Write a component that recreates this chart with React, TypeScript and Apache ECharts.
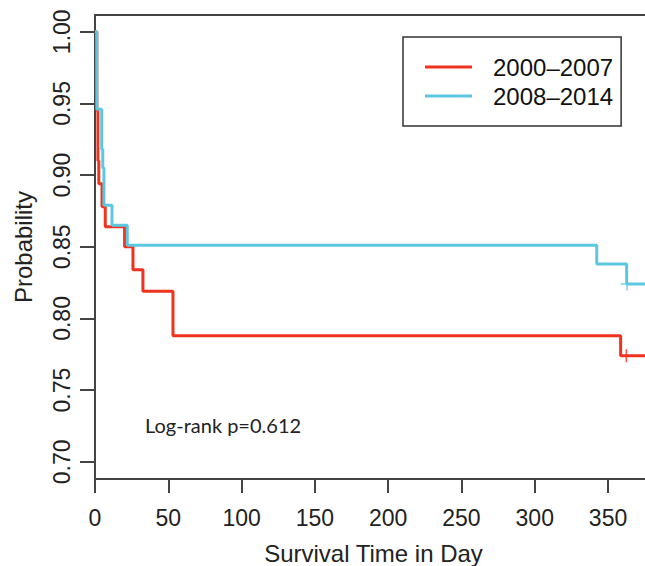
import React, { useEffect, useRef } from "react";
import * as echarts from "echarts";

const xTicks = [0, 50, 100, 150, 200, 250, 300, 350];
const yTicks = [0.7, 0.75, 0.8, 0.85, 0.9, 0.95, 1.0];

const redName = "2000–2007";
const redTimes = [0, 1.25, 2, 2.6, 4.8, 7, 20.2, 25.9, 32.7, 53.2, 358.6, 380];
const redSurv = [1, 0.945, 0.91, 0.894, 0.878, 0.864, 0.85, 0.834, 0.819, 0.788, 0.774, 0.774];
const redCensorTimes = [362.5];
const redCensorSurv = [0.774];

const blueName = "2008–2014";
const blueTimes = [0, 1.2, 1.3, 4.6, 5.3, 6.1, 11.6, 22, 342.3, 362.7, 380];
const blueSurv = [1, 0.986, 0.946, 0.918, 0.905, 0.879, 0.865, 0.851, 0.838, 0.824, 0.824];
const blueCensorTimes = [363];
const blueCensorSurv = [0.824];

const pValueText = "Log-rank p=0.612";

const RED = "#f0321e";
const BLUE = "#5cc8e0";
const AX = "#444";
const FONT = "'Liberation Sans', Arial, Helvetica, sans-serif";
const PLUS = "path://M-0.12,-1H0.12V1H-0.12Z M-1,-0.12H1V0.12H-1Z";

const zip = (a: number[], b: number[]) => a.map((v, i) => [v, b[i]]);

export default function App() {
  const ref = useRef<HTMLDivElement>(null);
  useEffect(() => {
    if (!ref.current) return;
    const chart = echarts.init(ref.current, null, { renderer: "svg" });
    chart.setOption({
      animation: false,
      backgroundColor: "#fff",
      grid: {
        left: 95,
        top: 15,
        width: 557,
        height: 464,
        outerBoundsMode: "none",
        containLabel: false,
        show: true,
        borderColor: AX,
        borderWidth: 2,
        backgroundColor: "transparent",
      },
      legend: {
        orient: "vertical",
        left: 403,
        top: 37,
        padding: [18, 8, 18, 22],
        icon: "rect",
        itemWidth: 47,
        itemHeight: 3,
        itemGap: 5,
        borderColor: "#333",
        borderWidth: 1.5,
        data: [redName, blueName],
        textStyle: {
          fontSize: 24,
          lineHeight: 24,
          fontFamily: FONT,
          color: "#111",
          padding: [0, 0, 0, 16],
        },
      },
      xAxis: {
        type: "value",
        min: 0,
        max: 380,
        name: "Survival Time in Day",
        nameLocation: "middle",
        nameGap: 62,
        nameTextStyle: { fontSize: 24, fontFamily: FONT, color: "#222" },
        axisLine: { show: true, onZero: false, lineStyle: { color: AX, width: 2 } },
        axisTick: { show: true, length: 14, customValues: xTicks, lineStyle: { color: AX, width: 2 } },
        axisLabel: {
          customValues: xTicks,
          fontSize: 23,
          fontFamily: FONT,
          color: "#222",
          margin: 27,
        },
        splitLine: { show: false },
      },
      yAxis: {
        type: "value",
        min: 0.688,
        max: 1.0117,
        name: "Probability",
        nameLocation: "middle",
        nameGap: 60,
        nameTextStyle: { fontSize: 24, fontFamily: FONT, color: "#222" },
        axisLine: { show: true, onZero: false, lineStyle: { color: AX, width: 2 } },
        axisTick: { show: true, length: 15, customValues: yTicks, lineStyle: { color: AX, width: 2 } },
        axisLabel: {
          customValues: yTicks,
          rotate: 90,
          fontSize: 23,
          fontFamily: FONT,
          color: "#222",
          margin: 22,
          formatter: (v: number) => v.toFixed(2),
        },
        splitLine: { show: false },
      },
      graphic: [
        {
          type: "text",
          left: 145,
          top: 415,
          style: { text: pValueText, fontSize: 20, fontFamily: "Lato, 'Open Sans', sans-serif", fill: "#222" },
        },
      ],
      series: [
        {
          name: redName,
          type: "line",
          step: "end",
          symbol: "none",
          data: zip(redTimes, redSurv),
          lineStyle: { color: RED, width: 3 },
          itemStyle: { color: RED },
          z: 2,
        },
        {
          name: blueName,
          type: "line",
          step: "end",
          symbol: "none",
          data: zip(blueTimes, blueSurv),
          lineStyle: { color: BLUE, width: 3 },
          itemStyle: { color: BLUE },
          z: 3,
        },
        {
          name: "censor-red",
          type: "scatter",
          symbol: PLUS,
          symbolSize: 13,
          data: zip(redCensorTimes, redCensorSurv),
          itemStyle: { color: RED },
          z: 4,
        },
        {
          name: "censor-blue",
          type: "scatter",
          symbol: PLUS,
          symbolSize: 13,
          data: zip(blueCensorTimes, blueCensorSurv),
          itemStyle: { color: BLUE },
          z: 4,
        },
      ],
    });
    return () => chart.dispose();
  }, []);
  return <div ref={ref} style={{ width: 645, height: 566, position: "absolute", left: 0, top: 0 }} />;
}
